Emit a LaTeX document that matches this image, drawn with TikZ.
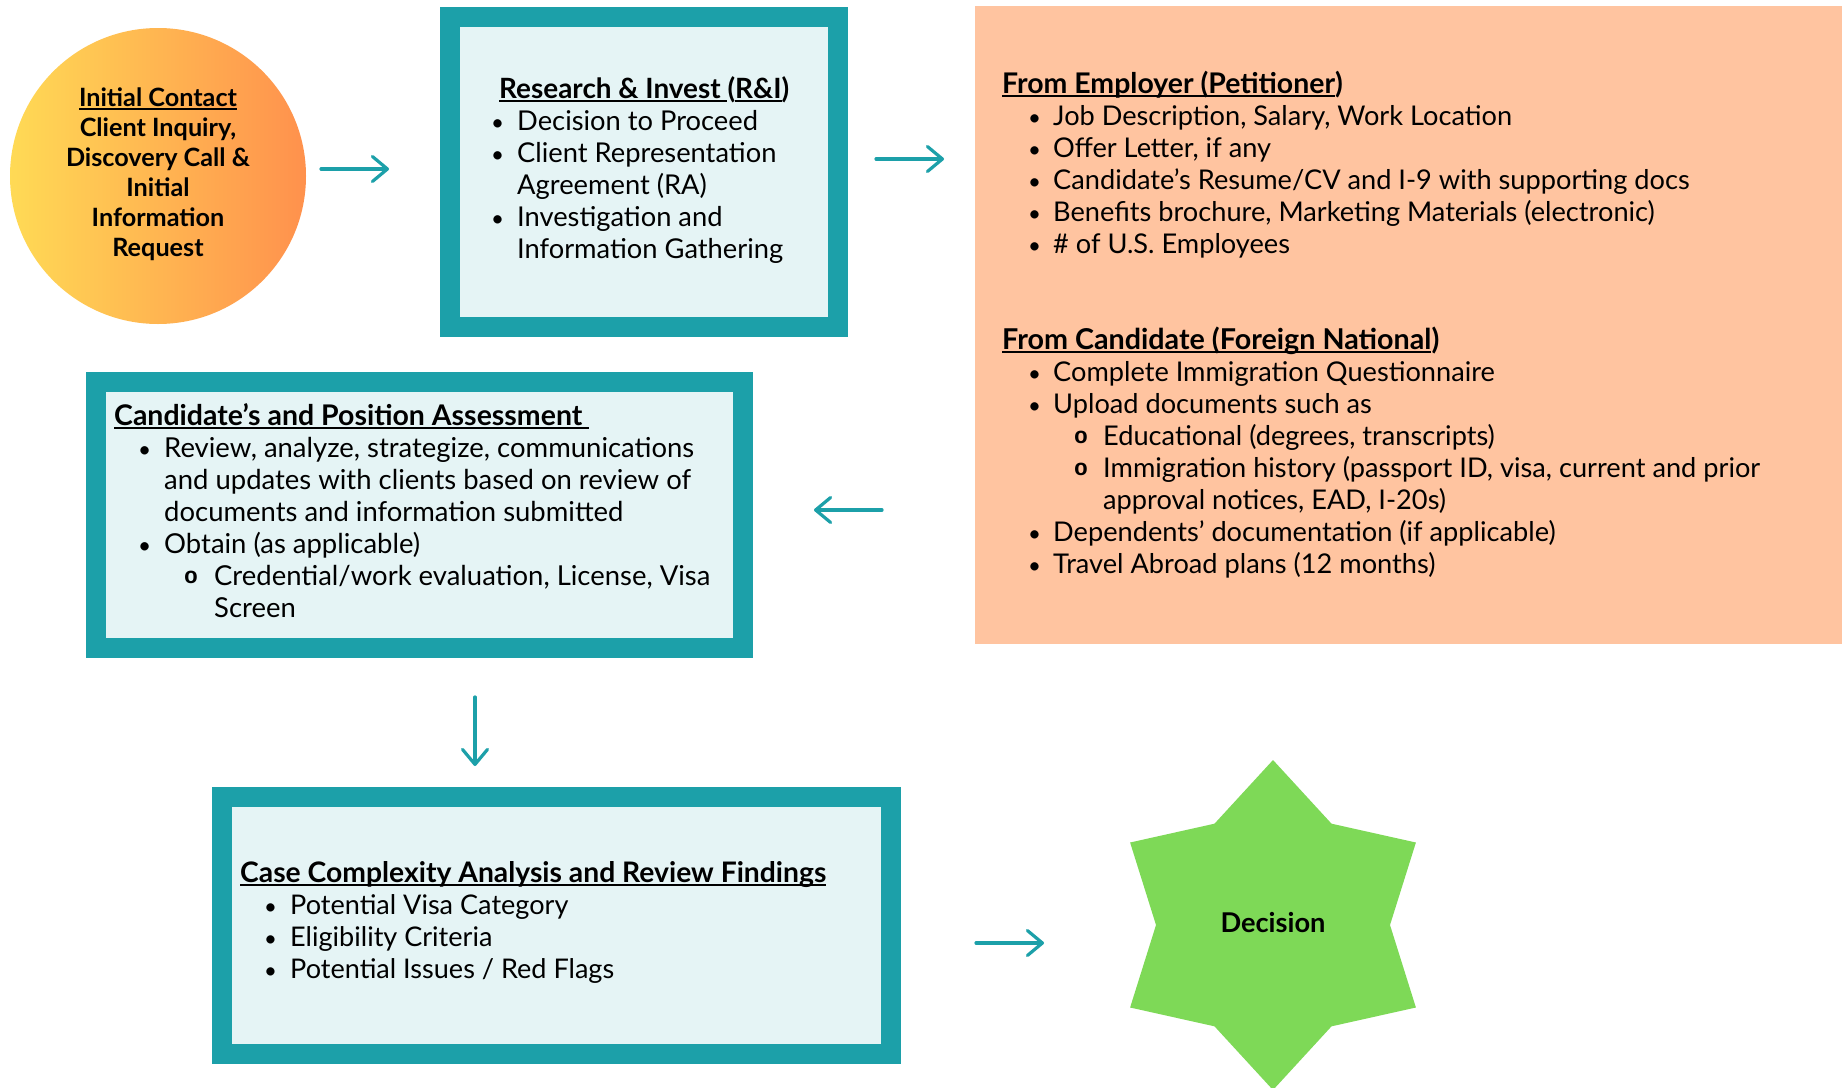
\documentclass[tikz,border=0pt]{standalone}
\usepackage{fontspec}
\setmainfont{Lato}
\newfontfamily\cour{Liberation Mono}
\usetikzlibrary{arrows.meta}
\definecolor{teal1}{HTML}{1CA0A9}
\definecolor{inner1}{HTML}{E5F4F5}
\definecolor{peach}{HTML}{FFC4A0}
\definecolor{yel}{HTML}{FFDA55}
\definecolor{org}{HTML}{FF914D}
\definecolor{grn}{HTML}{7ED957}
\newlength\mw
\newlength\bx \newlength\tx \newlength\sbx \newlength\stx
\newcommand\calib[4]{\settowidth\mw{\normalfont\fontsize{20}{20}\selectfont#3#4}\pgfmathsetmacro#1{20*#2/\mw}\global\let#1#1}
\newcommand\blk[2]{\vtop{\baselineskip=#1\lineskiplimit=-100pt\lineskip=0pt\relax #2}}
\newcommand\ul[1]{\setbox0\hbox{#1}\rlap{\rule[-0.15em]{\wd0}{0.065em}}\box0}
\newcommand\hd[2]{\hbox{\bfseries\fontsize{#1}{32}\selectfont #2}}
\newcommand\bul{\scalebox{0.82}{\textbullet}}
\newcommand\sbul{\raisebox{1.5pt}{\fontsize{23}{23}\selectfont\cour\bfseries o}}
\newcommand\li[1]{\hbox{\hskip\bx\relax\hbox to \dimexpr\tx-\bx\relax{\bul\hss}#1}}
\newcommand\lic[1]{\hbox{\hskip\tx\relax #1}}
\newcommand\lii[1]{\hbox{\hskip\sbx\relax\hbox to \dimexpr\stx-\sbx\relax{\sbul\hss}#1}}
\newcommand\liic[1]{\hbox{\hskip\stx\relax #1}}
\newcommand\cl[1]{\hbox to 0pt{\hss#1\hss}}
\AtBeginDocument{%
\calib{\szP}{657}{\mdseries}{Immigration history (passport ID, visa, current and prior}%
\calib{\szR}{266}{\mdseries}{Information Gathering}%
\calib{\szC}{530}{\mdseries}{Review, analyze, strategize, communications}%
\calib{\szK}{324}{\mdseries}{Potential Issues / Red Flags}%
\calib{\szO}{184}{\bfseries}{Discovery Call \&}%
\calib{\szD}{105}{\bfseries}{Decision}%
\calib{\hR}{290}{\bfseries}{Research \& Invest (R\&I)}%
\calib{\hE}{340}{\bfseries}{From Employer (Petitioner)}%
\calib{\hF}{437}{\bfseries}{From Candidate (Foreign National)}%
\calib{\hC}{468}{\bfseries}{Candidate’s and Position Assessment}%
\calib{\hK}{586}{\bfseries}{Case Complexity Analysis and Review Findings}}
\begin{document}
\begin{tikzpicture}[x=1pt,y=-1pt,
  txt/.style={inner sep=0pt, anchor=base west},
  tbox/.style={rectangle, draw=teal1, line width=20pt, fill=inner1, inner sep=0pt},
  arr/.style={draw=teal1, line width=3.2pt, line cap=round,
    -{Straight Barb[length=15pt, width=25pt, round]}}]
\fill[white] (0,0) rectangle (1844,1087);
\useasboundingbox (0,0) rectangle (1844,1087);

% shapes
\node[circle, minimum size=296pt, inner sep=0pt, left color=yel, right color=org] (ic) at (158,176) {};
\node[tbox, minimum width=388pt, minimum height=310pt] (ri) at (644,171.75) {};
\node[fill=peach, minimum width=867pt, minimum height=638pt, inner sep=0pt] (pe) at (1408.5,325) {};
\node[tbox, minimum width=647pt, minimum height=266.5pt] (ca) at (419.5,514.75) {};
\node[tbox, minimum width=669pt, minimum height=256.5pt] (cc) at (556.5,925.25) {};
\fill[grn] (1273,925) +(90:165) -- +(120:117) -- +(150:165) -- +(180:117) -- +(210:165) -- +(240:117)
  -- +(270:165) -- +(300:117) -- +(330:165) -- +(0:117) -- +(30:165) -- +(60:117) -- cycle;

% texts
\node[inner sep=0pt, anchor=base, font=\fontsize{\szO}{30}\selectfont\bfseries] (ict) at (158,106)
 {\blk{30pt}{\cl{\ul{Initial Contact}}\cl{Client Inquiry,}\cl{Discovery Call \&}\cl{Initial}\cl{Information}\cl{Request}}};

\node[txt, font=\fontsize{\szR}{32}\selectfont] (rit) at (491,98)
 {\setlength\bx{0pt}\setlength\tx{26pt}\blk{32pt}{%
  \hd{\hR}{\hskip8pt\ul{Research \& Invest }(\ul{R\&I})}%
  \li{Decision to Proceed}%
  \li{Client Representation}%
  \lic{Agreement (RA)}%
  \li{Investigation and}%
  \lic{Information Gathering}}};

\node[txt, font=\fontsize{\szP}{32}\selectfont] (pet1) at (1002,93)
 {\setlength\bx{26pt}\setlength\tx{51pt}\blk{32pt}{%
  \hd{\hE}{\ul{From Employer (Petitioner})}%
  \li{Job Description, Salary, Work Location}%
  \li{Offer Letter, if any}%
  \li{Candidate’s Resume/CV and I-9 with supporting docs}%
  \li{Benefits brochure, Marketing Materials (electronic)}%
  \li{\# of U.S. Employees}}};

\node[txt, font=\fontsize{\szP}{32}\selectfont] (pet2) at (1002,349)
 {\setlength\bx{26pt}\setlength\tx{51pt}\setlength\sbx{72pt}\setlength\stx{101pt}\blk{32pt}{%
  \hd{\hF}{\ul{From Candidate (Foreign National})}%
  \li{Complete Immigration Questionnaire}%
  \li{Upload documents such as}%
  \lii{Educational (degrees, transcripts)}%
  \lii{Immigration history (passport ID, visa, current and prior}%
  \liic{approval notices, EAD, I-20s)}%
  \li{Dependents’ documentation (if applicable)}%
  \li{Travel Abroad plans (12 months)}}};

\node[txt, font=\fontsize{\szC}{32}\selectfont] (cat) at (114,425)
 {\setlength\bx{24pt}\setlength\tx{50pt}\setlength\sbx{70pt}\setlength\stx{100pt}\blk{32pt}{%
  \hd{\hC}{\ul{Candidate’s and Position Assessment\ }}%
  \li{Review, analyze, strategize, communications}%
  \lic{and updates with clients based on review of}%
  \lic{documents and information submitted}%
  \li{Obtain (as applicable)}%
  \lii{Credential/work evaluation, License, Visa}%
  \liic{Screen}}};

\node[txt, font=\fontsize{\szK}{32}\selectfont] (cct) at (240,882)
 {\setlength\bx{24pt}\setlength\tx{50pt}\blk{32pt}{%
  \hd{\hK}{\ul{Case Complexity Analysis and Review Findings}}%
  \li{Potential Visa Category}%
  \li{Eligibility Criteria}%
  \li{Potential Issues / Red Flags}}};

\node[inner sep=0pt, anchor=base, font=\fontsize{\szD}{30}\selectfont\bfseries] (dec) at (1273,932) {Decision};

% connectors
\coordinate (a1s) at (321,169); \coordinate (a1e) at (389,169);
\coordinate (a2s) at (876,159); \coordinate (a2e) at (944,159);
\coordinate (a3s) at (882,510); \coordinate (a3e) at (814,510);
\coordinate (a4s) at (475,697); \coordinate (a4e) at (475,766);
\coordinate (a5s) at (976,943); \coordinate (a5e) at (1044,943);
\draw[arr] (a1s) -- (a1e);
\draw[arr] (a2s) -- (a2e);
\draw[arr] (a3s) -- (a3e);
\draw[arr] (a4s) -- (a4e);
\draw[arr] (a5s) -- (a5e);
\end{tikzpicture}
\end{document}
